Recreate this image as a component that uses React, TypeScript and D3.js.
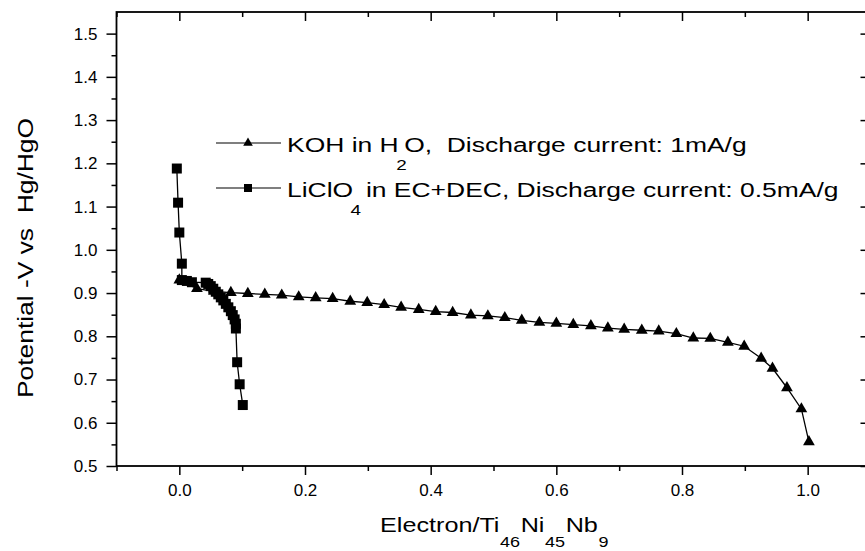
import React, { useRef, useEffect } from "react";
import * as d3 from "d3";

// KOH in H2O, 1mA/g (triangles)
const kohX = [0.0, 0.028, 0.055, 0.082, 0.109, 0.136, 0.163, 0.19, 0.217, 0.244, 0.272, 0.299, 0.326, 0.353, 0.381, 0.408, 0.435, 0.464, 0.491, 0.518, 0.545, 0.573, 0.6, 0.627, 0.655, 0.682, 0.708, 0.736, 0.763, 0.791, 0.818, 0.845, 0.873, 0.899, 0.926, 0.944, 0.967, 0.99, 1.002];
const kohY = [0.93, 0.91, 0.904, 0.901, 0.899, 0.897, 0.895, 0.891, 0.889, 0.887, 0.881, 0.878, 0.873, 0.867, 0.862, 0.857, 0.855, 0.849, 0.847, 0.843, 0.837, 0.832, 0.83, 0.827, 0.824, 0.819, 0.816, 0.814, 0.812, 0.806, 0.796, 0.795, 0.786, 0.777, 0.749, 0.726, 0.681, 0.632, 0.556];

// LiClO4 in EC+DEC, 0.5mA/g (squares)
const liX = [-0.004, -0.002, 0.0, 0.004, 0.004, 0.012, 0.02, 0.042, 0.046, 0.05, 0.054, 0.058, 0.062, 0.066, 0.07, 0.074, 0.078, 0.082, 0.085, 0.088, 0.09, 0.09, 0.092, 0.096, 0.101];
const liY = [1.188, 1.109, 1.04, 0.968, 0.93, 0.928, 0.925, 0.924, 0.921, 0.916, 0.91, 0.903, 0.897, 0.89, 0.883, 0.875, 0.867, 0.858, 0.849, 0.839, 0.829, 0.818, 0.74, 0.689, 0.641];

const xMajor = [0.0, 0.2, 0.4, 0.6, 0.8, 1.0];
const xMinor = [-0.1, 0.1, 0.3, 0.5, 0.7, 0.9, 1.1];
const yMajor = [0.5, 0.6, 0.7, 0.8, 0.9, 1.0, 1.1, 1.2, 1.3, 1.4, 1.5];
const yMinor = [0.55, 0.65, 0.75, 0.85, 0.95, 1.05, 1.15, 1.25, 1.35, 1.45];

const legendRows: [string, number][][] = [
  [["KOH in H", 0], ["2", 1], ["O,  Discharge current: 1mA/g", 0]],
  [["LiClO", 0], ["4", 1], [" in EC+DEC, Discharge current: 0.5mA/g", 0]],
];
const xTitle: [string, number][] = [["Electron/Ti", 0], ["46", 1], ["Ni", 0], ["45", 1], ["Nb", 0], ["9", 1]];
const yTitle = "Potential -V vs  Hg/HgO";

const FONT = "'Liberation Sans', Arial, Helvetica, sans-serif";

// text pieces with subscripts laid out one after another, stretched horizontally
function richText(sel: any, parts: [string, number][], tx: number, ty: number, sx: number,
  size: number, subSize: number, subDy: number, pad: number) {
  const grp = sel.append("g").attr("transform", `translate(${tx},${ty}) scale(${sx},1)`);
  let cx = 0;
  parts.forEach(([s, sub]) => {
    const t = grp.append("text")
      .attr("x", cx).attr("y", sub ? subDy : 0)
      .style("font-family", FONT).style("font-size", (sub ? subSize : size) + "px")
      .style("white-space", "pre").attr("fill", "#000")
      .text(s);
    cx += (t.node() as SVGTextElement).getComputedTextLength() + pad;
  });
  return grp;
}

export default function App() {
  const ref = useRef<SVGSVGElement>(null);

  useEffect(() => {
    const width = 865, height = 551;
    const left = 116.5, right = 870.5, top = 12, bottom = 466;

    const svg = d3.select(ref.current);
    svg.selectAll("*").remove();
    svg.attr("width", width).attr("height", height);

    const x = d3.scaleLinear().domain([-0.1, 1.1]).range([left, right]);
    const y = d3.scaleLinear().domain([0.5, 1.55]).range([bottom, top]);

    const g = svg.append("g");

    // frame
    g.append("rect")
      .attr("x", left).attr("y", top)
      .attr("width", right - left).attr("height", bottom - top)
      .attr("fill", "none").attr("stroke", "#000").attr("stroke-width", 1.8);

    // bottom axis
    const bAxis = g.append("g").attr("transform", `translate(0,${bottom})`);
    bAxis.call(
      d3.axisBottom(x).tickValues(xMajor).tickSize(9).tickPadding(9).tickFormat(d3.format(".1f"))
    );
    bAxis.append("g").call(d3.axisBottom(x).tickValues(xMinor).tickSize(5).tickFormat(() => ""));

    // top axis (inward)
    const tAxis = g.append("g").attr("transform", `translate(0,${top})`);
    tAxis.call(d3.axisBottom(x).tickValues(xMajor).tickSize(9).tickFormat(() => ""));
    tAxis.append("g").call(d3.axisBottom(x).tickValues(xMinor).tickSize(5).tickFormat(() => ""));

    // left axis
    const lAxis = g.append("g").attr("transform", `translate(${left},0)`);
    lAxis.call(
      d3.axisLeft(y).tickValues(yMajor).tickSize(10).tickPadding(9).tickFormat(d3.format(".1f"))
    );
    lAxis.append("g").call(d3.axisLeft(y).tickValues(yMinor).tickSize(5).tickFormat(() => ""));

    // right axis (inward)
    const rAxis = g.append("g").attr("transform", `translate(${right},0)`);
    rAxis.call(d3.axisLeft(y).tickValues(yMajor).tickSize(10).tickFormat(() => ""));
    rAxis.append("g").call(d3.axisLeft(y).tickValues(yMinor).tickSize(5).tickFormat(() => ""));

    g.selectAll(".domain").remove();
    g.selectAll(".tick line").attr("stroke", "#000").attr("stroke-width", 1.5);
    g.selectAll(".tick text")
      .attr("fill", "#000")
      .style("font-family", FONT)
      .style("font-size", "17px");

    // series
    const koh = kohX.map((v, i) => [v, kohY[i]] as [number, number]);
    const li = liX.map((v, i) => [v, liY[i]] as [number, number]);
    const line = d3.line<[number, number]>().x(d => x(d[0])).y(d => y(d[1]));

    g.append("path").datum(koh).attr("d", line)
      .attr("fill", "none").attr("stroke", "#000").attr("stroke-width", 1.3);
    g.append("path").datum(li).attr("d", line)
      .attr("fill", "none").attr("stroke", "#000").attr("stroke-width", 1.3);

    const tri = d3.symbol().type(d3.symbolTriangle).size(60);
    const sq = d3.symbol().type(d3.symbolSquare).size(100);

    g.selectAll(".tri").data(koh).enter().append("path")
      .attr("transform", d => `translate(${x(d[0])},${y(d[1])})`)
      .attr("d", tri).attr("fill", "#000");
    g.selectAll(".sq").data(li).enter().append("path")
      .attr("transform", d => `translate(${x(d[0])},${y(d[1])})`)
      .attr("d", sq).attr("fill", "#000");

    // legend
    const legSyms = [
      d3.symbol().type(d3.symbolTriangle).size(40),
      d3.symbol().type(d3.symbolSquare).size(64),
    ];
    const legY = [143, 188];
    legendRows.forEach((parts, i) => {
      const ly = legY[i];
      g.append("line")
        .attr("x1", 216).attr("x2", 281).attr("y1", ly).attr("y2", ly)
        .attr("stroke", "#000").attr("stroke-width", 1.2);
      g.append("path").attr("transform", `translate(248,${ly})`).attr("d", legSyms[i]).attr("fill", "#000");
      richText(g, parts, 287, ly + 9, 1.26, 21, 15, 18, -2);
    });

    // x title
    richText(g, xTitle, 380, 532, 1.2, 21, 15, 15, 0.5);

    // y title
    g.append("text")
      .attr("transform", "translate(33,258) rotate(-90) scale(1.2,1)")
      .attr("text-anchor", "middle")
      .style("font-family", FONT).style("font-size", "22px").style("white-space", "pre")
      .attr("fill", "#000")
      .text(yTitle);
  }, []);

  return (
    <svg ref={ref} style={{ position: "absolute", left: 0, top: 0, background: "#fff" }}></svg>
  );
}
